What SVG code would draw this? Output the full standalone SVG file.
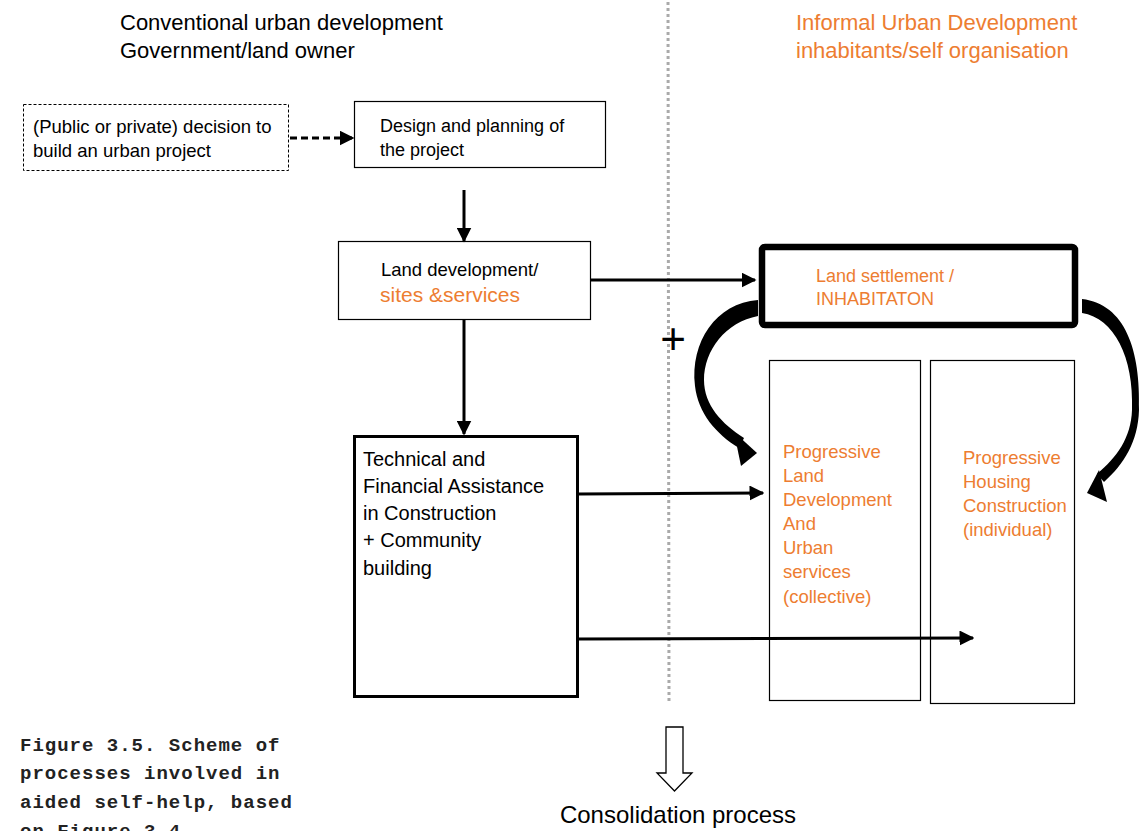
<svg xmlns="http://www.w3.org/2000/svg" width="1142" height="831" viewBox="0 0 1142 831">
<style>
.t{font-family:"Liberation Sans",Arial,sans-serif;fill:#000}
.o{fill:#ED7D31}
.cap{font-family:"Liberation Mono","Courier New",monospace;font-weight:bold;font-size:19px;letter-spacing:1px;fill:#222}
.box{fill:#fff;stroke:#000}
.ln{stroke:#000;stroke-width:3;fill:none}
</style>
<defs>
<marker id="ah" viewBox="0 0 10 10" refX="9" refY="5" markerWidth="5" markerHeight="5" orient="auto" markerUnits="strokeWidth">
<path d="M0,0 L10,5 L0,10 Z" fill="#000"/>
</marker>
</defs>
<rect width="1142" height="831" fill="#fff"/>

<line x1="668" y1="2" x2="669" y2="702" stroke="#aaa" stroke-width="3" stroke-dasharray="3,3"/>

<g id="headers">
<text class="t" x="120" y="30" font-size="22">Conventional urban development</text>
<text class="t" x="120" y="58" font-size="22">Government/land owner</text>
<text class="t o" x="796" y="30" font-size="22">Informal Urban Development</text>
<text class="t o" x="796" y="58" font-size="22">inhabitants/self organisation</text>
</g>

<g id="decision">
<rect class="box" x="23.5" y="104.5" width="265" height="66" stroke-width="1" stroke-dasharray="3,2"/>
<text class="t" x="33" y="133" font-size="18.5">(Public or private) decision to</text>
<text class="t" x="33" y="157" font-size="18.5">build an urban project</text>
</g>

<g id="design">
<rect class="box" x="354.5" y="101.5" width="251" height="66" stroke-width="1.2"/>
<text class="t" x="380" y="132" font-size="18">Design and planning of</text>
<text class="t" x="380" y="156" font-size="18">the project</text>
</g>

<g id="landdev">
<rect class="box" x="338.5" y="241.5" width="252" height="78" stroke-width="1.2"/>
<text class="t" x="381" y="276" font-size="18.5">Land development/</text>
<text class="t o" x="380" y="302" font-size="21">sites &amp;services</text>
</g>

<g id="settlement">
<rect class="box" x="762" y="247" width="313" height="78" rx="3" stroke-width="6.5"/>
<text class="t o" x="816" y="282" font-size="18">Land settlement /</text>
<text class="t o" x="816" y="305" font-size="18">INHABITATON</text>
</g>

<g id="technical">
<rect class="box" x="354.5" y="436.5" width="223" height="260" stroke-width="3"/>
<text class="t" x="363" y="466" font-size="20">Technical and</text>
<text class="t" x="363" y="493" font-size="20">Financial Assistance</text>
<text class="t" x="363" y="520" font-size="20">in Construction</text>
<text class="t" x="363" y="547" font-size="20">+ Community</text>
<text class="t" x="363" y="575" font-size="20">building</text>
</g>

<g id="progland">
<rect class="box" x="769.5" y="360.5" width="151" height="340" stroke-width="1.2"/>
<text class="t o" x="783" y="458" font-size="18.5">Progressive</text>
<text class="t o" x="783" y="482" font-size="18.5">Land</text>
<text class="t o" x="783" y="506" font-size="18.5">Development</text>
<text class="t o" x="783" y="530" font-size="18.5">And</text>
<text class="t o" x="783" y="554" font-size="18.5">Urban</text>
<text class="t o" x="783" y="578" font-size="18.5">services</text>
<text class="t o" x="783" y="603" font-size="18.5">(collective)</text>
</g>

<g id="proghousing">
<rect class="box" x="930.5" y="360.5" width="144" height="343" stroke-width="1.2"/>
<text class="t o" x="963" y="464" font-size="18.5">Progressive</text>
<text class="t o" x="963" y="488" font-size="18.5">Housing</text>
<text class="t o" x="963" y="512" font-size="18.5">Construction</text>
<text class="t o" x="963" y="536" font-size="18.5">(individual)</text>
</g>

<g id="connectors">
<line x1="290" y1="138" x2="353" y2="138" class="ln" stroke-dasharray="7,4" marker-end="url(#ah)"/>
<line x1="464" y1="190" x2="464" y2="241" class="ln" marker-end="url(#ah)"/>
<line x1="464" y1="320" x2="464" y2="434" class="ln" marker-end="url(#ah)"/>
<line x1="591" y1="280" x2="755" y2="280" class="ln" marker-end="url(#ah)"/>
<line x1="578" y1="494" x2="763" y2="493" class="ln" marker-end="url(#ah)"/>
<line x1="578" y1="639" x2="973" y2="638" class="ln" marker-end="url(#ah)"/>
<path d="M758,300 C716,303 690,342 695,386 C698,413 716,434 739,448 L744,438 C722,424 704,405 704,380 C704,350 726,322 758,316 Z" fill="#000"/>
<path d="M734,432 L757,453 L741,466 Z" fill="#000"/>
<path d="M1082,299 C1125,304 1141,350 1139,410 C1138,442 1124,464 1104,482 L1097,474 C1117,457 1131,438 1132,410 C1134,357 1114,318 1082,313 Z" fill="#000"/>
<path d="M1099,470 L1087,493 L1107,502 Z" fill="#000"/>
<text class="t" x="673" y="354" font-size="44" text-anchor="middle">+</text>
<path d="M666,727 L683,727 L683,773 L692,773 L674.5,791 L657,773 L666,773 Z" fill="#fff" stroke="#000" stroke-width="1.3"/>
</g>

<g id="footer">
<text class="t" x="678" y="823" font-size="24" text-anchor="middle">Consolidation process</text>
<text class="cap" x="20" y="751">Figure 3.5. Scheme of</text>
<text class="cap" x="20" y="779">processes involved in</text>
<text class="cap" x="20" y="808">aided self-help, based</text>
<text class="cap" x="20" y="837">on Figure 3.4</text>
</g>
</svg>
